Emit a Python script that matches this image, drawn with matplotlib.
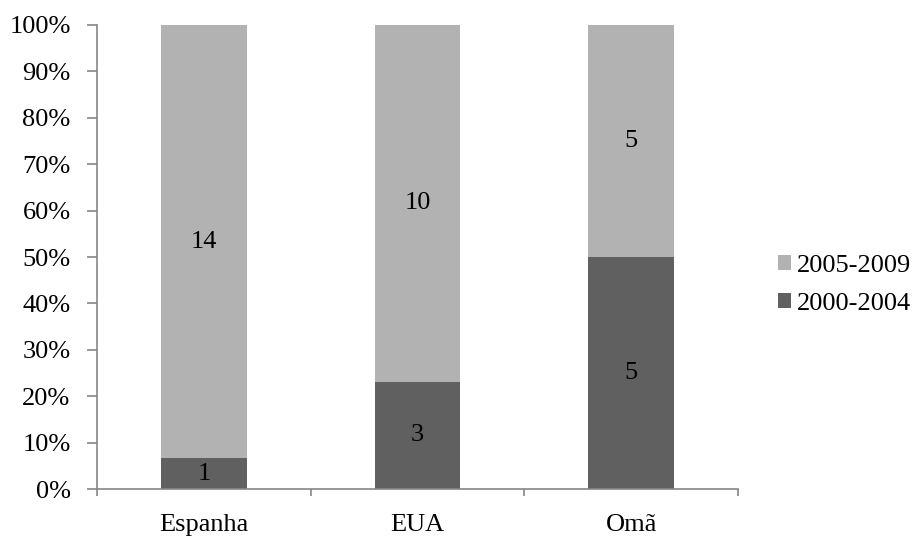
import matplotlib.pyplot as plt
import numpy as np

plt.rcParams['font.family'] = ['Liberation Serif', 'DejaVu Serif']

# Data
countries = ["Espanha", "EUA", "Omã"]
count_2000_2004 = [1, 3, 5]
count_2005_2009 = [14, 10, 5]

totals = np.array(count_2000_2004) + np.array(count_2005_2009)
pct_early = np.array(count_2000_2004) / totals * 100
pct_late = np.array(count_2005_2009) / totals * 100

fig = plt.figure(figsize=(9.14, 5.41), dpi=100)
ax = fig.add_axes([0.1061, 0.0961, 0.7013, 0.8577])

fs = 19
x = np.arange(len(countries))
dark = "#606060"
light = "#b2b2b2"
b1 = ax.bar(x, pct_early, width=0.4, color=dark, label="2000-2004")
b2 = ax.bar(x, pct_late, width=0.4, bottom=pct_early, color=light, label="2005-2009")

# Value labels
for i in range(len(countries)):
    ax.text(x[i], pct_early[i] / 2, str(count_2000_2004[i]), ha="center", va="center", fontsize=fs)
    ax.text(x[i], pct_early[i] + pct_late[i] / 2, str(count_2005_2009[i]), ha="center", va="center", fontsize=fs)

ax.set_xlim(-0.5, len(countries) - 0.5)
ax.set_ylim(0, 100)
ax.set_yticks(np.arange(0, 101, 10))
ax.set_yticklabels([f"{v}%" for v in range(0, 101, 10)], fontsize=fs)

# Category labels centered, ticks at boundaries
ax.set_xticks(np.arange(-0.5, len(countries), 1.0))
ax.set_xticklabels([])
ax.set_xticks(x, minor=True)
ax.set_xticklabels(countries, minor=True, fontsize=fs)
ax.tick_params(axis="x", which="minor", length=0, pad=18)
ax.tick_params(axis="x", which="major", length=5, width=1.2, color="#868686")
ax.tick_params(axis="y", length=7, width=1.2, color="#868686", pad=12)

for side in ["top", "right"]:
    ax.spines[side].set_visible(False)
for side in ["left", "bottom"]:
    ax.spines[side].set_color("#868686")
    ax.spines[side].set_linewidth(1.2)

handles = [b2, b1]
ax.legend(handles, ["2005-2009", "2000-2004"], loc="center left",
          bbox_to_anchor=(778 / 914, 1 - 285 / 541), bbox_transform=fig.transFigure,
          frameon=False, fontsize=fs, handlelength=0.5, handleheight=0.5, handletextpad=0.2,
          labelspacing=0.6, borderpad=0, borderaxespad=0)

fig.savefig("out.png", dpi=100)
